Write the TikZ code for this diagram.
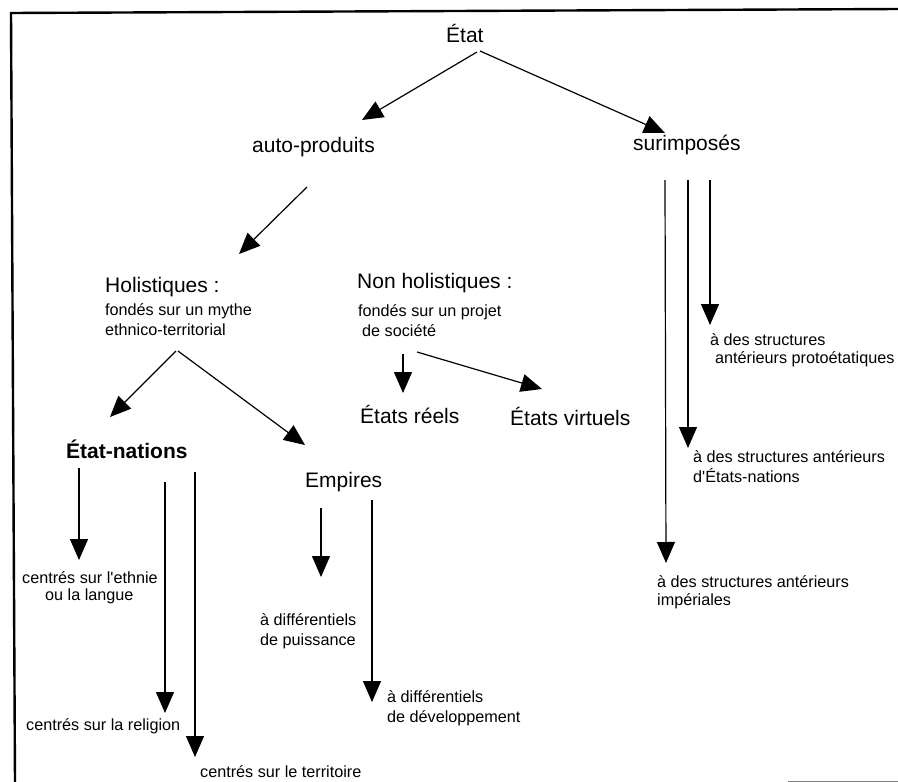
\documentclass[tikz,border=0pt]{standalone}
\usepackage{fontspec}
\setmainfont{Liberation Sans}[Ligatures=TeXOff]
\usetikzlibrary{arrows.meta}
\newcommand\twolines[3]{\vtop{\baselineskip=#1\hbox{#2}\hbox{#3}}}
\begin{document}
\begin{tikzpicture}[x=1pt,y=-1pt,
  big/.style={font=\fontsize{21}{24}\selectfont, inner sep=0pt, anchor=base west},
  small/.style={font=\fontsize{16.2}{19}\selectfont, inner sep=0pt, anchor=base west},
  arr/.style={line width=1.2pt, -{Triangle[length=21pt,width=18pt]}},
  frame/.style={line width=2.4pt}]
\useasboundingbox (0,0) rectangle (898,782);
% frame
\draw[frame] (15,782) -- (11,13) -- (898,9);
\draw[gray, line width=1pt] (788,781) -- (898,781);
% nodes
\node[big] (etat) at (446,42) {État};
\node[big] (auto) at (252,152) {auto-produits};
\node[big] (surimp) at (633,150) {surimposés};
\node[big] (holi) at (105,292) {Holistiques :};
\node[small] (holisub) at (105,315) {\twolines{20pt}{fondés sur un mythe}{ethnico-territorial}};
\node[big] (nonholi) at (357,288) {Non holistiques :};
\node[small] (nonsub) at (358,316) {\twolines{20pt}{fondés sur un projet}{\hspace{4pt}de société}};
\node[big] (reels) at (360,423) {États réels};
\node[big] (virt) at (510,425) {États virtuels};
\node[big, font=\fontsize{21}{24}\selectfont\bfseries] (etatnat) at (66,458) {État-nations};
\node[big] (empires) at (305,487) {Empires};
\node[small] (ethnie) at (22,583) {\twolines{17pt}{centrés sur l'ethnie}{\hspace{23pt}ou la langue}};
\node[small] (religion) at (26,730) {centrés sur la religion};
\node[small] (territoire) at (200,777) {centrés sur le territoire};
\node[small] (puissance) at (260,625) {\twolines{20pt}{à différentiels}{de puissance}};
\node[small] (develop) at (387,702) {\twolines{20pt}{à différentiels}{de développement}};
\node[small] (proto) at (710,345) {\twolines{18pt}{à des structures}{\hspace{5pt}antérieurs protoétatiques}};
\node[small] (dnations) at (693,462) {\twolines{20pt}{à des structures antérieurs}{d'États-nations}};
\node[small] (imper) at (657,587) {\twolines{18pt}{à des structures antérieurs}{impériales}};
% connector end points
\coordinate (etatL) at (477,52);   \coordinate (autoT) at (362,120);
\coordinate (etatR) at (480,51);   \coordinate (surimpT) at (665,133);
\coordinate (autoB) at (307,187);  \coordinate (holiT) at (239,254);
\coordinate (holiBL) at (176,351); \coordinate (etatnatT) at (110,417);
\coordinate (holiBR) at (178,351); \coordinate (empiresT) at (305,445);
\coordinate (nonB1) at (403,354);  \coordinate (reelsT) at (403,393);
\coordinate (nonB2) at (417,352);  \coordinate (virtT) at (542,389);
\coordinate (enB1) at (79,468);    \coordinate (ethnieT) at (79,560);
\coordinate (enB2) at (165,482);   \coordinate (religionT) at (165,713);
\coordinate (enB3) at (195,472);   \coordinate (territoireT) at (195,757);
\coordinate (emB1) at (321,508);   \coordinate (puissanceT) at (321,577);
\coordinate (emB2) at (372,500);   \coordinate (developT) at (372,702);
\coordinate (suB1) at (665,180);   \coordinate (imperT) at (666,563);
\coordinate (suB2) at (688,180);   \coordinate (dnationsT) at (688,448);
\coordinate (suB3) at (710,180);   \coordinate (protoT) at (710,325);
% connectors
\draw[arr] (etatL) -- (autoT);
\draw[arr] (etatR) -- (surimpT);
\draw[arr] (autoB) -- (holiT);
\draw[arr] (holiBL) -- (etatnatT);
\draw[arr] (holiBR) -- (empiresT);
\draw[arr] (nonB1) -- (reelsT);
\draw[arr] (nonB2) -- (virtT);
\draw[arr] (enB1) -- (ethnieT);
\draw[arr] (enB2) -- (religionT);
\draw[arr] (enB3) -- (territoireT);
\draw[arr] (emB1) -- (puissanceT);
\draw[arr] (emB2) -- (developT);
\draw[arr] (suB1) -- (imperT);
\draw[arr] (suB2) -- (dnationsT);
\draw[arr] (suB3) -- (protoT);
\end{tikzpicture}
\end{document}
